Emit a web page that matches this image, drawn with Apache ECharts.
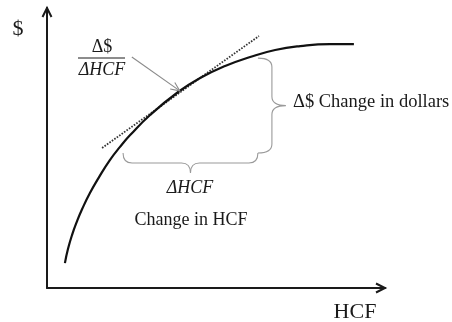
<!DOCTYPE html>
<html>
<head>
<meta charset="utf-8">
<script src="https://cdn.jsdelivr.net/npm/echarts@6/dist/echarts.min.js"></script>
<style>
  html, body { margin: 0; padding: 0; background: #fff; }
  #chart { width: 452px; height: 322px; }
</style>
</head>
<body>
<div id="chart"></div>
<script>
// Cost curve: dollars paid as a function of water used (HCF)
const hcf     = [5.3, 6.2, 7.4, 8.9, 10.4, 12.7, 15.4, 18.6, 21.6, 24.6, 30.5, 38.8, 45.3, 52.7, 60.1, 67.5, 74.9, 83.7, 90.8];
const dollars = [8.9, 13.9, 18.9, 23.9, 28.2, 33.9, 39.6, 45.7, 50.4, 54.6, 61.8, 70.0, 75.0, 79.3, 82.5, 85.0, 86.4, 87.1, 87.1];

// Tangent line touching the curve
const tangentHcf     = [16.3, 62.7];
const tangentDollars = [50.0, 90.0];

// Spans marked with curly braces
const hcfSpan         = [22.5, 62.4];   // horizontal brace, sits at dollars = 48.2
const hcfSpanLevel    = 48.2;
const dollarSpan      = [48.2, 82.1];   // vertical brace, sits at hcf = 62.4
const dollarSpanLevel = 62.4;

// Pointer from the slope label to the tangent point
const pointerFrom = [25.1, 82.5];
const pointerTo   = [39.3, 70.4];

const SERIF = "'Liberation Serif', 'DejaVu Serif', serif";
const INK = '#1a1a1a';
const GREY = '#9a9a9a';

const chart = echarts.init(document.getElementById('chart'), null, { renderer: 'canvas' });

// Curly brace between points a and b, bulging outward by `depth` pixels
function bracePath(a, b, depth, vertical) {
  const r = 9;
  const h = depth / 2;
  if (!vertical) {
    // span along x, tip pointing down
    const [x1, y0] = a, [x2] = b;
    const xm = (x1 + x2) / 2, ym = y0 + h, yt = y0 + depth;
    return `M${x1},${y0} Q${x1},${ym} ${x1 + r},${ym} L${xm - r},${ym} Q${xm},${ym} ${xm},${yt} ` +
           `Q${xm},${ym} ${xm + r},${ym} L${x2 - r},${ym} Q${x2},${ym} ${x2},${y0}`;
  }
  // span along y, tip pointing right
  const [x0, y1] = a, [, y2] = b;
  const ym = (y1 + y2) / 2, xm = x0 + h, xt = x0 + depth;
  return `M${x0},${y1} Q${xm},${y1} ${xm},${y1 + r} L${xm},${ym - r} Q${xm},${ym} ${xt},${ym} ` +
         `Q${xm},${ym} ${xm},${ym + r} L${xm},${y2 - r} Q${xm},${y2} ${x0},${y2}`;
}

// Open arrowhead at `tip`, pointing away from `from`
function chevron(tip, from, len, half) {
  const dx = tip[0] - from[0], dy = tip[1] - from[1];
  const d = Math.hypot(dx, dy);
  const ux = dx / d, uy = dy / d;
  const bx = tip[0] - ux * len, by = tip[1] - uy * len;
  return [[bx - uy * half, by + ux * half], tip, [bx + uy * half, by - ux * half]];
}

const option = {
  animation: false,
  backgroundColor: '#fff',
  grid: { left: 47, right: 67, top: 8, bottom: 34 },
  xAxis: {
    type: 'value', min: 0, max: 100,
    axisLine: { show: true, lineStyle: { color: INK, width: 2 } },
    axisTick: { show: false }, axisLabel: { show: false }, splitLine: { show: false }
  },
  yAxis: {
    type: 'value', min: 0, max: 100,
    axisLine: { show: true, lineStyle: { color: INK, width: 2 } },
    axisTick: { show: false }, axisLabel: { show: false }, splitLine: { show: false }
  },
  series: [
    {
      name: 'cost',
      type: 'line',
      data: hcf.map((x, i) => [x, dollars[i]]),
      smooth: 0.5,
      showSymbol: false,
      lineStyle: { color: '#111', width: 2.2 },
      z: 5
    },
    {
      name: 'tangent',
      type: 'line',
      data: tangentHcf.map((x, i) => [x, tangentDollars[i]]),
      showSymbol: false,
      lineStyle: { color: '#333', width: 1.8, type: [1.6, 1.4] },
      z: 4
    },
    {
      name: 'braces',
      type: 'custom',
      data: [0],
      renderItem: function (params, api) {
        const hA = api.coord([hcfSpan[0], hcfSpanLevel]);
        const hB = api.coord([hcfSpan[1], hcfSpanLevel]);
        const vA = api.coord([dollarSpanLevel, dollarSpan[1]]);
        const vB = api.coord([dollarSpanLevel, dollarSpan[0]]);
        const style = { stroke: GREY, lineWidth: 1.1, fill: null };
        return {
          type: 'group',
          children: [
            { type: 'path', shape: { pathData: bracePath(hA, hB, 20, false) }, style },
            { type: 'path', shape: { pathData: bracePath(vA, vB, 28, true) }, style }
          ]
        };
      },
      z: 3
    },
    {
      name: 'pointer',
      type: 'custom',
      data: [0],
      renderItem: function (params, api) {
        const a = api.coord(pointerFrom);
        const b = api.coord(pointerTo);
        const style = { stroke: '#8a8a8a', lineWidth: 1.1, fill: null };
        return {
          type: 'group',
          children: [
            { type: 'line', shape: { x1: a[0], y1: a[1], x2: b[0], y2: b[1] }, style },
            { type: 'polyline', shape: { points: chevron(b, a, 9, 4) }, style }
          ]
        };
      },
      z: 6
    },
    {
      name: 'axisHeads',
      type: 'custom',
      data: [0],
      renderItem: function (params, api) {
        const o = api.coord([0, 0]);
        const xt = api.coord([100, 0]);
        const yt = api.coord([0, 100]);
        const style = { stroke: INK, lineWidth: 2, fill: null };
        return {
          type: 'group',
          children: [
            { type: 'polyline', shape: { points: chevron(xt, o, 9, 4.5) }, style },
            { type: 'polyline', shape: { points: chevron(yt, o, 9, 4.5) }, style }
          ]
        };
      },
      z: 6
    }
  ],
  graphic: [
    { type: 'text', x: 18, y: 29, style: { text: '$', font: `22px ${SERIF}`, fill: INK, align: 'center', verticalAlign: 'middle' } },
    { type: 'text', x: 355, y: 312, style: { text: 'HCF', font: `22px ${SERIF}`, fill: INK, align: 'center', verticalAlign: 'middle' } },
    { type: 'text', x: 102, y: 47, style: { text: 'Δ$', font: `18px ${SERIF}`, fill: INK, align: 'center', verticalAlign: 'middle' } },
    { type: 'line', shape: { x1: 78, y1: 58, x2: 125, y2: 58 }, style: { stroke: INK, lineWidth: 1 } },
    { type: 'text', x: 102, y: 70, style: { text: 'ΔHCF', font: `italic 18px ${SERIF}`, fill: INK, align: 'center', verticalAlign: 'middle' } },
    { type: 'text', x: 293, y: 102, style: { text: 'Δ$ Change in dollars', font: `18.5px ${SERIF}`, fill: INK, align: 'left', verticalAlign: 'middle' } },
    { type: 'text', x: 190, y: 188, style: { text: 'ΔHCF', font: `italic 18px ${SERIF}`, fill: INK, align: 'center', verticalAlign: 'middle' } },
    { type: 'text', x: 191, y: 220, style: { text: 'Change in HCF', font: `18px ${SERIF}`, fill: INK, align: 'center', verticalAlign: 'middle' } }
  ]
};

chart.setOption(option);
</script>
</body>
</html>
